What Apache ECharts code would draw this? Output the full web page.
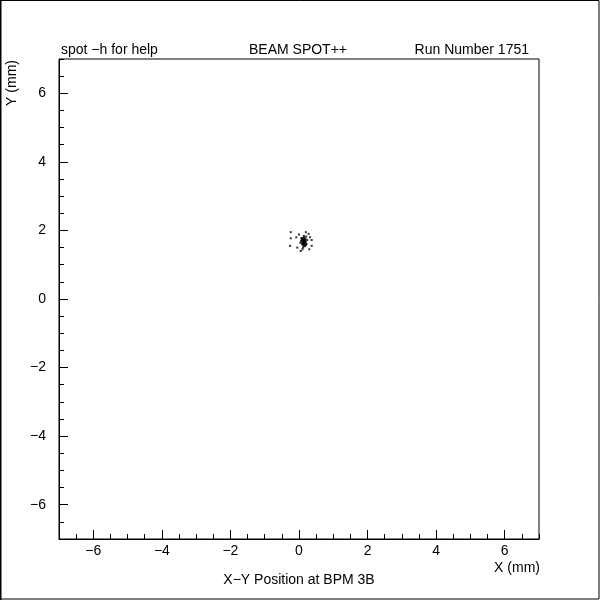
<!DOCTYPE html>
<html><head><meta charset="utf-8">
<script src="https://cdn.jsdelivr.net/npm/echarts@6/dist/echarts.min.js"></script>
<style>html,body{margin:0;padding:0;background:#fff}#c{width:600px;height:600px}</style>
</head><body><div id="c"></div>
<script>
// Beam spot hit positions (mm)
const spotX = [0.10,0.14,0.18,0.12,0.16,0.08,0.20,0.14,0.11,0.17,0.13,0.15,0.09,0.19,0.06,0.22,0.14,0.12,0.16,0.10,0.18,0.04,0.24,0.13,0.15,0.07,0.21,0.14,0.11,0.17,
  0.12,0.16,0.14,0.18,0.10,0.13,0.15,0.20,0.08,0.17,
  -0.24,-0.24,-0.26,0.37,0.37,0.05,0.00,0.28,0.30,-0.05,0.20,0.10,-0.08,0.32];
const spotY = [1.66,1.70,1.62,1.74,1.58,1.68,1.66,1.62,1.78,1.72,1.55,1.80,1.60,1.76,1.70,1.60,1.84,1.50,1.66,1.74,1.54,1.64,1.72,1.67,1.65,1.78,1.82,1.58,1.62,1.68,
  1.64,1.69,1.73,1.70,1.71,1.60,1.76,1.58,1.74,1.64,
  1.95,1.77,1.55,1.72,1.55,1.40,1.88,1.90,1.45,1.50,1.95,1.45,1.80,1.80];
const majorTicks = [-6,-4,-2,0,2,4,6];
const titleLeft = 'spot \u2212h for help';
const titleCenter = 'BEAM SPOT++';
const titleRight = 'Run Number 1751';
const xName = 'X (mm)';
const yName = 'Y (mm)';
const caption = 'X\u2212Y Position at BPM 3B';

const FONT = '"Liberation Sans", Arial, sans-serif';
const fmt = v => (v < 0 ? '\u2212' + Math.abs(v) : String(v));
const chart = echarts.init(document.getElementById('c'), null, {renderer:'canvas'});
const pts = spotX.map((x,i)=>[x, spotY[i]]);
function axisMajor(pos, isX){
  return {type:'value', min:-7, max:7, position:pos, gridIndex:0,
    axisLine:{show:true, onZero:false, lineStyle:{color:'#000', width:1}},
    axisTick:{show:true, inside:true, length:9, customValues:majorTicks, lineStyle:{color:'#000', width:1}},
    axisLabel:{show:true, customValues:majorTicks, formatter:fmt, color:'#000', fontSize:14, fontFamily:FONT, margin: isX?5:13},
    splitLine:{show:false}};
}
function axisMinor(pos){
  return {type:'value', min:-7, max:7, interval:0.5, position:pos, gridIndex:0,
    axisLine:{show:false, onZero:false},
    axisTick:{show:true, inside:true, length:5, lineStyle:{color:'#000', width:1}},
    axisLabel:{show:false}, splitLine:{show:false}};
}
const txt = (x,y,t,align,extra) => Object.assign({type:'text', x, y, style:{text:t, fill:'#000', font:'14px '+FONT, textAlign:align, textVerticalAlign:'middle'}}, extra||{});
chart.setOption({
  animation:false,
  backgroundColor:'#fff',
  grid:{left:59, right:61, top:59, bottom:61, show:true, borderColor:'#000', borderWidth:1, backgroundColor:'transparent'},
  xAxis:[axisMajor('bottom', true), axisMinor('bottom')],
  yAxis:[axisMajor('left', false), axisMinor('left')],
  series:[{type:'scatter', xAxisIndex:0, yAxisIndex:0, data:pts, symbol:'rect', symbolSize:2, itemStyle:{color:'#000'}}],
  graphic:[
    {type:'rect', shape:{x:0.5, y:0.5, width:598.5, height:598.5}, style:{fill:'none', stroke:'#000', lineWidth:1}},
    {type:'line', shape:{x1:0.5, y1:0, x2:0.5, y2:600}, style:{stroke:'#000', lineWidth:2}},
    txt(61, 50, titleLeft, 'left'),
    txt(298, 50, titleCenter, 'center'),
    txt(529, 50, titleRight, 'right'),
    txt(540, 568, xName, 'right'),
    txt(299, 580, caption, 'center'),
    {type:'text', x:12, y:60, rotation:Math.PI/2, style:{text:yName, fill:'#000', font:'14px '+FONT, textAlign:'right', textVerticalAlign:'middle'}}
  ]
});
</script></body></html>
